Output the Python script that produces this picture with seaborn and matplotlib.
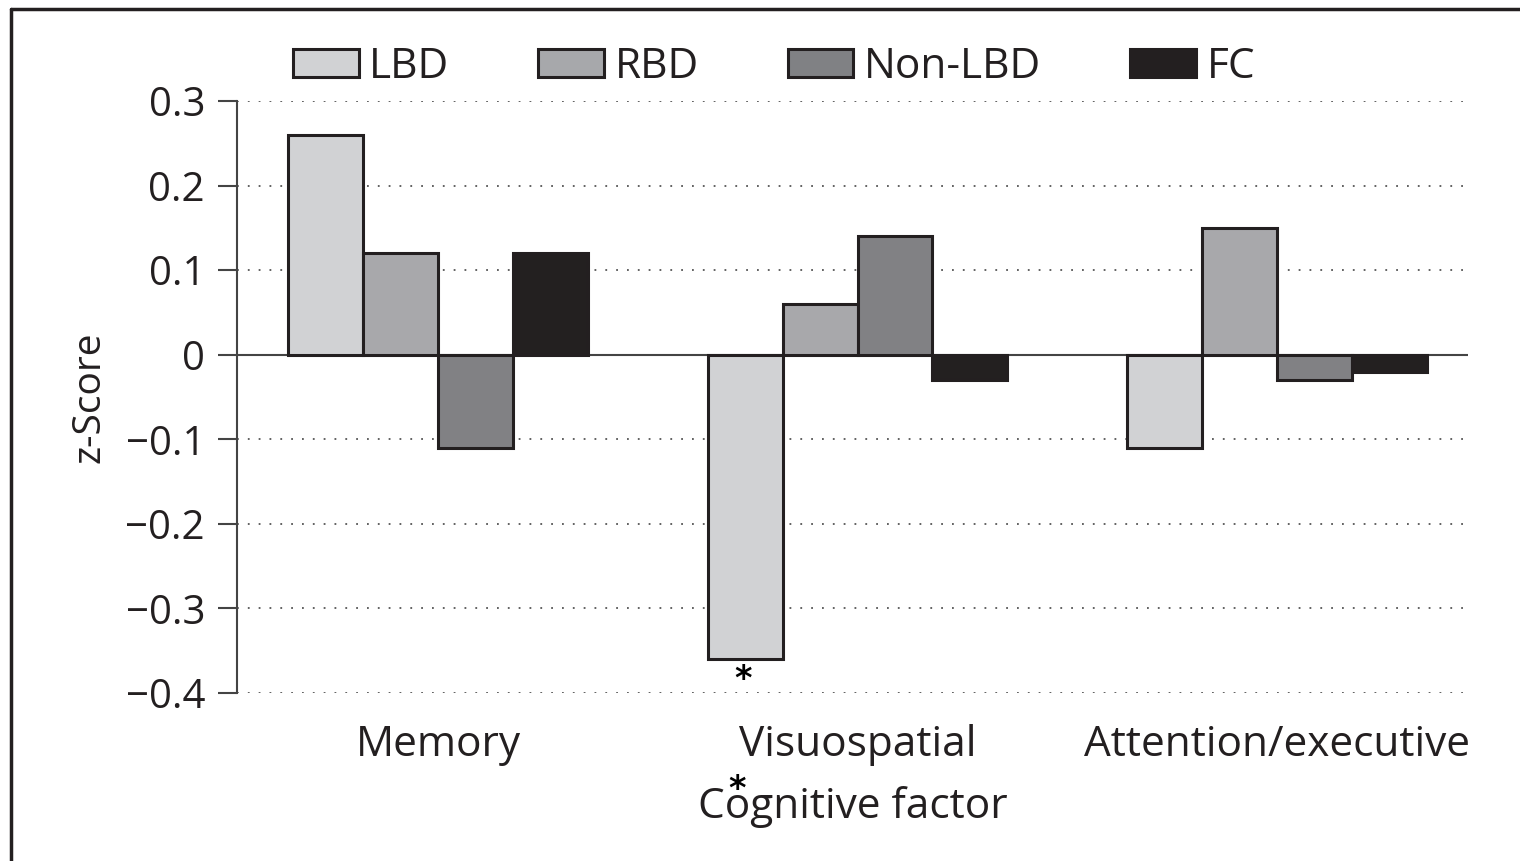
import matplotlib
matplotlib.use("Agg")
import matplotlib.pyplot as plt
import seaborn as sns
import pandas as pd
from matplotlib.patches import Patch

categories = ["Memory", "Visuospatial", "Attention/executive"]
groups = ["LBD", "RBD", "Non-LBD", "FC"]
lbd = [0.26, -0.36, -0.11]
rbd = [0.12, 0.06, 0.15]
non_lbd = [-0.11, 0.14, -0.03]
fc = [0.12, -0.03, -0.02]
yticks = [-0.4, -0.3, -0.2, -0.1, 0, 0.1, 0.2, 0.3]
ytick_labels = ["\u22120.4", "\u22120.3", "\u22120.2", "\u22120.1", "0", "0.1", "0.2", "0.3"]
colors = {"LBD": "#d1d2d4", "RBD": "#a7a8ab", "Non-LBD": "#808184", "FC": "#231f20"}

rows = []
for g, vals in zip(groups, [lbd, rbd, non_lbd, fc]):
    for c, v in zip(categories, vals):
        rows.append({"factor": c, "group": g, "z": v})
df = pd.DataFrame(rows)

sns.set_style("white")
plt.rcParams["font.family"] = ["Open Sans", "DejaVu Sans"]
txt = "#231f20"
fs = 30.5

fig = plt.figure(figsize=(15.2, 8.61), dpi=100)
ax = fig.add_axes([237/1520, 1-693/861, (1468-237)/1520, (693-101)/861])

sns.barplot(data=df, x="factor", y="z", hue="group", order=categories,
            hue_order=groups, palette=colors, width=0.714, edgecolor=txt,
            linewidth=2.2, ax=ax, legend=False, zorder=3)

ax.set_ylim(-0.4, 0.3)
ax.set_xlim(-0.479, 2.455)
ax.set_yticks(yticks)
ax.set_yticklabels(ytick_labels, fontsize=29, color=txt)
for y in yticks:
    if y != 0:
        ax.axhline(y, color="#555555", lw=1.3, ls=(0, (1, 5)), zorder=1)
ax.axhline(0, color="#444444", lw=1.5, zorder=2)

for s in ["top", "right", "bottom"]:
    ax.spines[s].set_visible(False)
ax.spines["left"].set_color("#444444")
ax.spines["left"].set_linewidth(1.5)
ax.tick_params(axis="y", length=14, width=1.5, color="#444444", pad=9, left=True)
ax.tick_params(axis="x", length=0, pad=22)
for lab in ax.get_xticklabels():
    lab.set_fontsize(fs)
    lab.set_color(txt)
ax.set_xlabel("Cognitive factor", fontsize=fs, color=txt, labelpad=15)
ax.set_ylabel("z-Score", fontsize=28, color=txt, labelpad=12)

handles = [Patch(facecolor=colors[g], edgecolor=txt, linewidth=2.2, label=g) for g in groups]
leg = fig.legend(handles=handles, ncol=4, loc="center", bbox_to_anchor=(774/1520, 1-67/861),
                 frameon=False, fontsize=fs, handlelength=1.55, handleheight=0.62,
                 handletextpad=0.25, columnspacing=2.1, labelcolor=txt)

fig.text(743/1520, 1-680/861, "*", fontsize=24, ha="center", va="center",
         family="DejaVu Sans", fontweight="bold", color="black")
fig.text(737/1520, 1-790/861, "*", fontsize=24, ha="center", va="center",
         family="DejaVu Sans", fontweight="bold", color="black")

# frame around figure (left and top edges)
fig.add_artist(plt.Line2D([11/1520, 11/1520], [0, 1-9/861], transform=fig.transFigure,
                          color="#231f20", lw=2.5))
fig.add_artist(plt.Line2D([11/1520, 1], [1-9/861, 1-9/861], transform=fig.transFigure,
                          color="#231f20", lw=2.5))

fig.savefig("out.png", dpi=100)
